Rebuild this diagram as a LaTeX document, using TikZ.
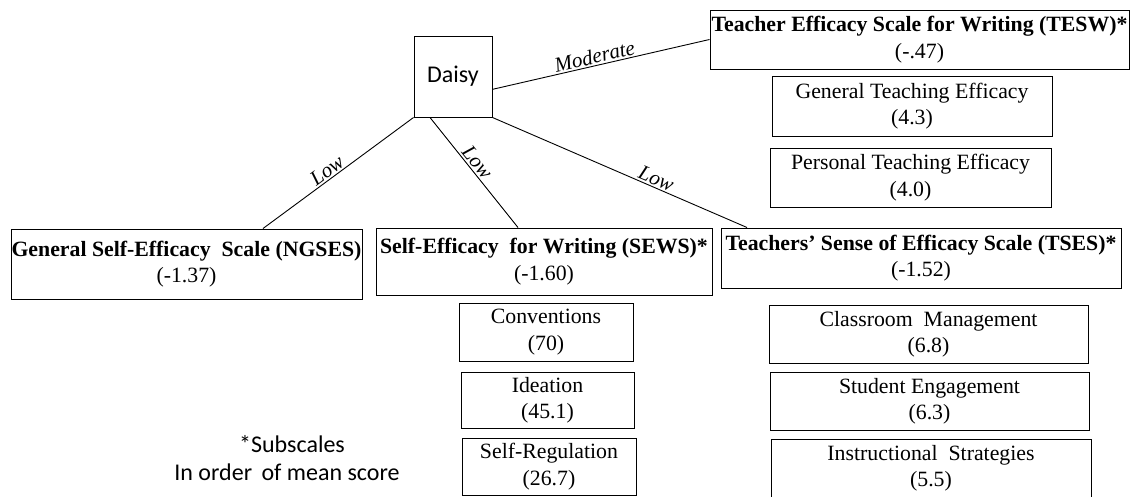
\documentclass[tikz,border=0pt]{standalone}
\usepackage{fontspec}
\setmainfont{Liberation Serif}
\newfontfamily\calibri{Carlito}
\newfontface\lblfont{Liberation Serif Italic}
\usetikzlibrary{calc}

\begin{document}
\begin{tikzpicture}[x=1pt,y=-1pt,
  box/.style={draw, line width=1pt, inner sep=0pt, align=center,
              font=\fontsize{21.8}{26.5}\selectfont},
  wh/.style 2 args={minimum width=#1, minimum height=#2},
  link/.style={line width=0.9pt},
  lbl/.style={font=\lblfont\fontsize{21}{21}\selectfont, sloped, above, inner sep=1.5pt},
  note/.style={font=\calibri\fontsize{24}{24}\selectfont, anchor=base, inner sep=0pt}]
\useasboundingbox (0,0) rectangle (1132,496);

% central participant
\node[box, wh={78pt}{81pt}, font=\calibri\fontsize{24}{24}\selectfont] (daisy) at (453,76.5) {Daisy};

% writing-teacher scale and its subscales
\node[box, wh={419pt}{59pt}] (tesw) at (919.5,39.5)
  {\textbf{Teacher Efficacy Scale for Writing (TESW)*}\\(-.47)};
\node[box, wh={280pt}{60pt}] (gte) at (912,106) {General Teaching Efficacy\\(4.3)};
\node[box, wh={281pt}{59pt}] (pte) at (910.5,177.5) {Personal Teaching Efficacy\\(4.0)};

% general self-efficacy
\node[box, wh={351pt}{70pt}] (ngses) at (186.5,264)
  {\textbf{General Self-Efficacy\ \ Scale (NGSES)}\\(-1.37)};

% writing self-efficacy and its subscales
\node[box, wh={336pt}{67pt}] (sews) at (544,261.5)
  {\textbf{Self-Efficacy\ \ for Writing (SEWS)*}\\(-1.60)};
\node[box, wh={174pt}{58pt}] (conv) at (546,332) {Conventions\hspace{1.2em}\\(70)};
\node[box, wh={173pt}{56pt}] (idea) at (547.5,400) {Ideation\\(45.1)};
\node[box, wh={174pt}{57pt}] (sreg) at (549,466.5) {Self-Regulation\\(26.7)};

% teachers' sense of efficacy and its subscales
\node[box, wh={400pt}{60pt}] (tses) at (921,258)
  {\textbf{Teachers' Sense of Efficacy Scale (TSES)*}\\(-1.52)};
\node[box, wh={319pt}{58pt}] (cm) at (928.5,334) {Classroom\ \ Management\\(6.8)};
\node[box, wh={319pt}{58pt}] (se) at (929.5,401) {Student Engagement\\(6.3)};
\node[box, wh={320pt}{58pt}] (is) at (931,468) {Instructional\ \ Strategies\\(5.5)};

% links with their levels
\draw[link] (daisy.-18) -- node[lbl, pos=0.48] {Moderate} (tesw.west);
\draw[link] (daisy.south west) -- node[lbl, pos=0.54] {Low} ([xshift=76.5pt]ngses.north);
\draw[link] ([xshift=-23pt]daisy.south) -- node[lbl, pos=0.46] {Low} ([xshift=-26pt]sews.north);
\draw[link] (daisy.south east) -- node[lbl, pos=0.63] {Low} ([xshift=-174pt]tses.north);

% footnote
\node[note] (n1) at (292,452) {*Subscales};
\node[note] (n2) at (287,480) {In order\ \,of mean score};
\end{tikzpicture}
\end{document}
